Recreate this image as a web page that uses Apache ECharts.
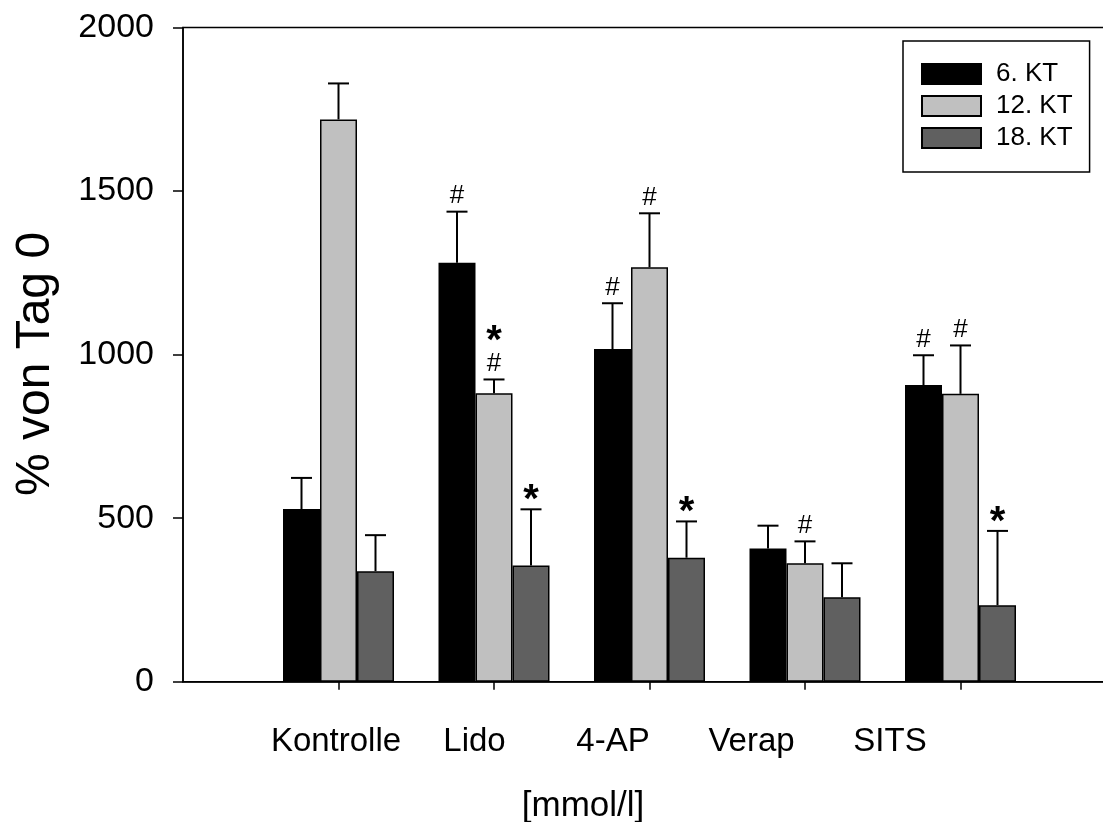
<!DOCTYPE html>
<html>
<head>
<meta charset="utf-8">
<script src="https://cdn.jsdelivr.net/npm/echarts@6/dist/echarts.min.js"></script>
<style>html,body{margin:0;padding:0;background:#fff;overflow:hidden}#c{width:1103px;height:822px}</style>
</head>
<body>
<div id="c"></div>
<script>
const categories = ['Kontrolle', 'Lido', '4-AP', 'Verap', 'SITS'];
const seriesNames = ['6. KT', '12. KT', '18. KT'];
const kt6 = [528, 1281, 1017, 407, 907];
const kt6Err = [95, 156, 140, 70, 91];
const kt6Marks = ['', '#', '#', '', '#'];
const kt12 = [1719, 882, 1267, 362, 880];
const kt12Err = [110, 42, 165, 67, 148];
const kt12Marks = ['', '#*', '#', '#', '#'];
const kt18 = [338, 355, 379, 258, 234];
const kt18Err = [110, 172, 111, 104, 227];
const kt18Marks = ['', '*', '*', '', '*'];
const yMin = 0, yMax = 2000, yStep = 500;
const xTitle = '[mmol/l]';
const yTitle = '% von Tag 0';

const FONT = 'Liberation Sans, Arial, sans-serif';
const colors = ['#000000', '#c0c0c0', '#606060'];
const BW = 37;
const values = [kt6, kt12, kt18];
const errs = [kt6Err, kt12Err, kt18Err];
const marks = [kt6Marks, kt12Marks, kt18Marks];
const axisData = [''].concat(categories, ['']);

const series = [];
values.forEach((vals, k) => {
  series.push({
    name: seriesNames[k], type: 'bar', barWidth: BW, barGap: '0%',
    itemStyle: {color: colors[k], borderColor: '#000', borderWidth: 1.5},
    data: vals.map((v, i) => [i + 1, v]), z: 2
  });
});
values.forEach((vals, k) => {
  const off = (k - 1) * BW;
  series.push({
    type: 'custom', z: 5, silent: true,
    data: vals.map((v, i) => [i + 1, v, errs[k][i], marks[k][i]]),
    encode: {x: 0, y: 1},
    renderItem: function (params, api) {
      const p = api.coord([api.value(0), api.value(1)]);
      const t = api.coord([api.value(0), api.value(1) + api.value(2)]);
      const cx = p[0] + off;
      const children = [
        {type: 'line', shape: {x1: cx, y1: p[1], x2: cx, y2: t[1]}, style: {stroke: '#000', lineWidth: 2}},
        {type: 'line', shape: {x1: cx - 10.5, y1: t[1], x2: cx + 10.5, y2: t[1]}, style: {stroke: '#000', lineWidth: 2}}
      ];
      const m = marks[k][params.dataIndex] || '';
      let bottom = t[1] - 8;
      for (const ch of m) {
        if (ch === '#') {
          children.push({type: 'text', x: cx, y: bottom - 7.5, style: {text: '#', fontSize: 26, fontFamily: FONT, fill: '#000', align: 'center', verticalAlign: 'middle'}});
          bottom -= 15 + 14;
        } else {
          bottom -= 2;
          children.push({type: 'text', x: cx, y: bottom - 7 + 8.8, style: {text: '*', fontSize: 40, fontWeight: 'bold', fontFamily: FONT, fill: '#000', align: 'center', verticalAlign: 'middle'}});
          bottom -= 14 + 14;
        }
      }
      return {type: 'group', children: children};
    }
  });
});

const chart = echarts.init(document.getElementById('c'));
chart.setOption({
  animation: false,
  backgroundColor: '#fff',
  grid: [
    {left: 183, width: 933, top: 27.5, height: 654.2, outerBoundsMode: 'none', containLabel: false, show: true, borderColor: '#000', borderWidth: 1.5, backgroundColor: 'transparent'},
    {left: 197.5, width: 831, top: 27.5, height: 654.2, outerBoundsMode: 'none', containLabel: false, show: false}
  ],
  legend: {
    data: seriesNames, orient: 'vertical', left: 903, top: 41,
    itemWidth: 59, itemHeight: 20, itemGap: 6, icon: 'rect',
    padding: [20, 17, 21, 18], borderColor: '#000', borderWidth: 1.5,
    textStyle: {fontSize: 26, fontFamily: FONT, color: '#000', padding: [0, 0, 0, 10]}
  },
  xAxis: [
    {
      type: 'category', data: axisData, boundaryGap: false, gridIndex: 0,
      axisLine: {lineStyle: {color: '#000', width: 1.5}},
      axisTick: {length: 8, lineStyle: {color: '#000', width: 1.5}, interval: (i) => i > 0 && i < axisData.length - 1},
      axisLabel: {show: false},
      splitLine: {show: false}
    },
    {
      type: 'category', data: axisData, boundaryGap: false, gridIndex: 1,
      axisLine: {show: false}, axisTick: {show: false},
      axisLabel: {fontSize: 33, fontFamily: FONT, color: '#000', margin: 44, interval: 0},
      splitLine: {show: false}
    }
  ],
  yAxis: [
    {
      type: 'value', min: yMin, max: yMax, interval: yStep, gridIndex: 0,
      axisLine: {show: true, lineStyle: {color: '#000', width: 1.5}},
      axisTick: {show: true, length: 10, lineStyle: {color: '#000', width: 1.5}},
      axisLabel: {fontSize: 34, fontFamily: FONT, color: '#000', margin: 29, formatter: (v) => String(v)},
      splitLine: {show: false}
    },
    {
      type: 'value', min: yMin, max: yMax, interval: yStep, gridIndex: 1, show: false
    }
  ],
  graphic: [
    {type: 'text', x: 583, y: 806, style: {text: xTitle, fontSize: 35, fontFamily: FONT, fill: '#000', align: 'center', verticalAlign: 'middle'}},
    {type: 'text', x: 35.5, y: 364, rotation: Math.PI / 2, style: {text: yTitle, fontSize: 48, fontFamily: FONT, fill: '#000', align: 'center', verticalAlign: 'middle'}}
  ],
  series: series
});
</script>
</body>
</html>
